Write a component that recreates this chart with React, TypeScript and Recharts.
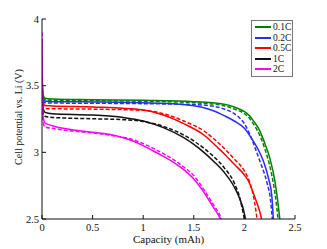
import { LineChart, Line, XAxis, YAxis, Legend } from "recharts"

// capacity (mAh) / potential (V) per C-rate, solid and dashed traces
const capG1 = [0, 0.008, 0.03, 0.1, 0.5, 1.0, 1.5, 1.8, 1.9, 2.0, 2.05, 2.1, 2.15, 2.2, 2.25, 2.3, 2.325, 2.35]
const volG1 = [3.58, 3.45, 3.405, 3.4, 3.395, 3.39, 3.38, 3.36, 3.34, 3.305, 3.275, 3.225, 3.165, 3.07, 2.96, 2.79, 2.66, 2.5]
const capG2 = [0, 0.008, 0.03, 0.1, 0.5, 1.0, 1.5, 1.8, 1.9, 2.0, 2.05, 2.1, 2.15, 2.2, 2.25, 2.29, 2.315, 2.332]
const volG2 = [3.55, 3.43, 3.395, 3.39, 3.387, 3.383, 3.372, 3.35, 3.325, 3.29, 3.255, 3.2, 3.13, 3.03, 2.9, 2.75, 2.62, 2.5]

const capB1 = [0, 0.008, 0.03, 0.1, 0.5, 1.0, 1.3, 1.5, 1.6, 1.7, 1.8, 1.9, 2.0, 2.07, 2.13, 2.19, 2.24, 2.27, 2.286]
const volB1 = [3.6, 3.42, 3.385, 3.38, 3.378, 3.372, 3.365, 3.35, 3.335, 3.31, 3.275, 3.235, 3.18, 3.105, 3.03, 2.93, 2.8, 2.68, 2.5]
const capB2 = [0, 0.008, 0.03, 0.1, 0.5, 1.0, 1.5, 1.7, 1.8, 1.9, 1.95, 2.0, 2.07, 2.1, 2.155, 2.22, 2.26, 2.276]
const volB2 = [3.57, 3.4, 3.372, 3.37, 3.368, 3.365, 3.358, 3.345, 3.325, 3.29, 3.26, 3.215, 3.105, 3.045, 2.93, 2.78, 2.63, 2.5]

const capR1 = [0, 0.008, 0.03, 0.1, 0.5, 1.0, 1.2, 1.4, 1.6, 1.73, 1.8, 1.9, 2.0, 2.05, 2.1, 2.15, 2.17]
const volR1 = [3.55, 3.39, 3.352, 3.348, 3.34, 3.318, 3.28, 3.215, 3.13, 3.04, 2.99, 2.91, 2.83, 2.77, 2.67, 2.56, 2.5]
const capR2 = [0, 0.008, 0.03, 0.1, 0.5, 1.0, 1.2, 1.4, 1.6, 1.73, 1.8, 1.9, 2.0, 2.05, 2.1, 2.125]
const volR2 = [3.5, 3.36, 3.33, 3.327, 3.324, 3.315, 3.29, 3.235, 3.16, 3.08, 3.03, 2.95, 2.86, 2.78, 2.63, 2.5]

const capK1 = [0, 0.008, 0.03, 0.1, 0.5, 0.8, 1.0, 1.2, 1.4, 1.5, 1.6, 1.7, 1.8, 1.9, 1.95, 2.0, 2.01]
const volK1 = [3.5, 3.34, 3.3, 3.29, 3.28, 3.262, 3.235, 3.185, 3.11, 3.06, 3.0, 2.93, 2.85, 2.74, 2.66, 2.54, 2.5]
const capK2 = [0, 0.008, 0.03, 0.1, 0.5, 0.8, 1.0, 1.2, 1.4, 1.5, 1.6, 1.7, 1.8, 1.9, 1.95, 2.0]
const volK2 = [3.45, 3.3, 3.27, 3.262, 3.252, 3.245, 3.232, 3.195, 3.13, 3.085, 3.03, 2.965, 2.885, 2.77, 2.67, 2.5]

const capM1 = [0, 0.008, 0.03, 0.1, 0.3, 0.5, 0.7, 0.9, 1.0, 1.1, 1.2, 1.3, 1.4, 1.5, 1.6, 1.65, 1.7, 1.75, 1.765]
const volM1 = [3.85, 3.28, 3.22, 3.2, 3.17, 3.15, 3.13, 3.085, 3.05, 3.01, 2.97, 2.925, 2.87, 2.8, 2.7, 2.64, 2.58, 2.52, 2.5]
const capM2 = [0, 0.008, 0.03, 0.1, 0.3, 0.5, 0.7, 0.9, 1.0, 1.1, 1.2, 1.3, 1.4, 1.5, 1.6, 1.65, 1.7, 1.75, 1.775]
const volM2 = [3.9, 3.24, 3.19, 3.18, 3.16, 3.145, 3.125, 3.095, 3.065, 3.03, 2.99, 2.945, 2.89, 2.825, 2.72, 2.66, 2.6, 2.54, 2.5]

const rates = ["0.1C", "0.2C", "0.5C", "1C", "2C"]
const colors = ["#008000", "#2b2bff", "#ff0000", "#111111", "#ff00ff"]
const xTicks = [0, 0.5, 1, 1.5, 2, 2.5]
const yTicks = [2.5, 3, 3.5, 4]

const zip = (xs: number[], ys: number[]) => xs.map((x, i) => ({ x, v: ys[i] }))

const traces = [
  { solid: zip(capG1, volG1), dashed: zip(capG2, volG2) },
  { solid: zip(capB1, volB1), dashed: zip(capB2, volB2) },
  { solid: zip(capR1, volR1), dashed: zip(capR2, volR2) },
  { solid: zip(capK1, volK1), dashed: zip(capK2, volK2) },
  { solid: zip(capM1, volM1), dashed: zip(capM2, volM2) },
]

const font = "'Liberation Serif', 'Times New Roman', serif"

function LegendBox() {
  return (
    <div
      style={{
        border: "1px solid #777",
        background: "#fff",
        width: 40,
        padding: "1px 0",
        fontFamily: font,
        fontSize: 9.5,
        color: "#111",
      }}
    >
      {rates.map((r, i) => (
        <div key={r} style={{ display: "flex", alignItems: "center", height: 10.5 }}>
          <span style={{ width: 16, height: 0, borderTop: `2px solid ${colors[i]}`, marginLeft: 3, marginRight: 2 }} />
          <span>{r}</span>
        </div>
      ))}
    </div>
  )
}

function YTitle(props: any) {
  const vb = props.viewBox
  const cx = vb.x + 6
  const cy = vb.y + vb.height / 2 - 2
  return (
    <text
      x={cx}
      y={cy}
      transform={`rotate(-90 ${cx} ${cy})`}
      textAnchor="middle"
      dominantBaseline="central"
      fontFamily={font}
      fontSize={10}
      fill="#111"
    >
      Cell potential vs. Li (V)
    </text>
  )
}

export default function App() {
  return (
    <div style={{ position: "absolute", left: 0, top: 0, background: "#fff" }}>
      <LineChart width={327} height={249} margin={{ top: 19, right: 32, left: 12, bottom: 0 }}>
        <XAxis
          type="number"
          dataKey="x"
          domain={[0, 2.5]}
          ticks={xTicks}
          allowDataOverflow
          height={30}
          stroke="#111"
          tickSize={-4}
          tickMargin={9}
          tick={{ fill: "#111", fontSize: 10.5, fontFamily: font }}
          label={{ value: "Capacity (mAh)", position: "insideBottom", offset: 6, fill: "#111", fontSize: 11, fontFamily: font }}
        />
        <YAxis
          type="number"
          domain={[2.5, 4]}
          ticks={yTicks}
          allowDataOverflow
          width={30}
          stroke="#111"
          tickSize={-4}
          tickMargin={7}
          tick={{ fill: "#111", fontSize: 10.5, fontFamily: font }}
          label={{ content: YTitle }}
        />
        {traces.map((t, i) => (
          <Line
            key={`s${i}`}
            data={t.solid}
            dataKey="v"
            type="monotone"
            stroke={colors[i]}
            strokeWidth={1.5}
            dot={false}
            isAnimationActive={false}
            name={rates[i]}
          />
        ))}
        {traces.map((t, i) => (
          <Line
            key={`d${i}`}
            data={t.dashed}
            dataKey="v"
            type="monotone"
            stroke={colors[i]}
            strokeWidth={1.5}
            strokeDasharray="4 2"
            dot={false}
            isAnimationActive={false}
            legendType="none"
          />
        ))}
        <Legend
          content={<LegendBox />}
          layout="horizontal"
          verticalAlign="middle"
          align="center"
          wrapperStyle={{ position: "absolute", left: 251, top: 20, width: 44 }}
        />
      </LineChart>
    </div>
  )
}
